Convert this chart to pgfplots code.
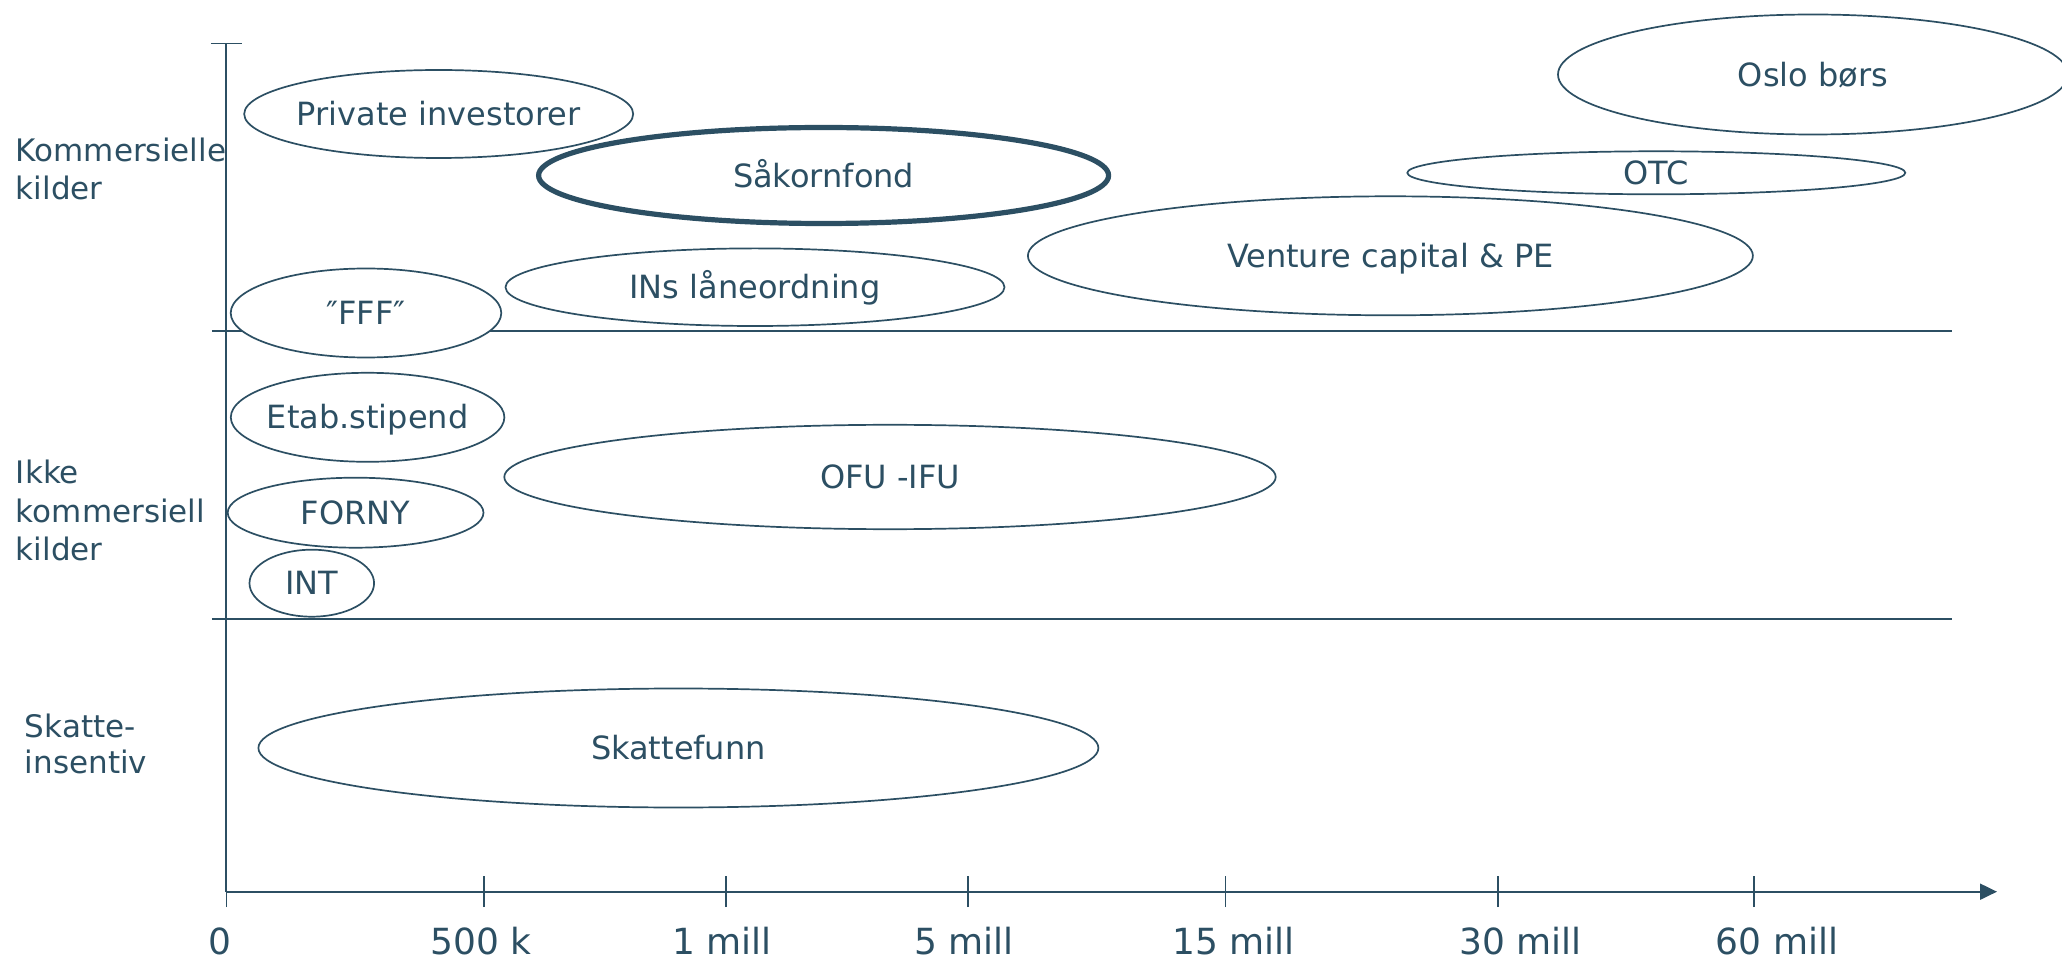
\documentclass[border=0pt]{standalone}
\usepackage{fontspec}
\setmainfont{DejaVu Sans}
\usepackage{pgfplots}
\usepackage{pgfplotstable}
\pgfplotsset{compat=1.18}
\usetikzlibrary{arrows.meta,shapes.geometric}
\definecolor{ink}{RGB}{44,79,99}

% ellipse centres and radii (in picture pixels), line width (pt), label
\pgfplotstableread[col sep=comma]{
x,y,rx,ry,lw,label
438.7,846,194.5,44,0.85,Private investorer
1813,885.5,255,60,0.85,Oslo børs
1656.3,787.2,249,21.5,0.85,OTC
1390.4,704.2,362.5,59.5,0.85,Venture capital \& PE
755,672.8,249.5,38.8,0.85,INs låneordning
366,647,135.3,44.5,0.85,″FFF″
823.6,784.5,285,48,2.6,Såkornfond
367.6,542.7,136.8,44.5,0.85,Etab.stipend
890,483,385.7,52.2,0.85,OFU -IFU
355.6,447.3,127.9,35,0.85,FORNY
311.8,376.8,62.3,33.5,0.85,INT
678.4,212,420,59.5,0.85,Skattefunn
}\ellipses

\begin{document}
\begin{tikzpicture}
\path[use as bounding box] (0,0) rectangle (1031pt,480pt);
\begin{axis}[
  x=0.5pt, y=0.5pt,
  xmin=226.5, xmax=1997, ymin=68.3, ymax=916.3,
  anchor=south west, at={(113.25pt,34.15pt)},
  axis x line=bottom, axis y line=left,
  axis line style={ink, line width=1pt},
  x axis line style={-{Triangle[length=8.5pt,width=8pt]}},
  y axis line style={-},
  clip=false,
  tick align=center,
  major tick length=15.5pt,
  tick style={ink, line width=0.8pt},
  xtick={226.6,484,726,968,1225.5,1497.8,1753.8},
  xticklabels={},
  extra x ticks={226.6,481,721.9,964,1233.6,1520.8,1777},
  extra x tick labels={{\makebox[0pt]{\kern-6.6pt 0}},500 k,1 mill,5 mill,15 mill,30 mill,60 mill},
  extra x tick style={major tick length=0pt,
    xticklabel style={anchor=base, yshift=-31.15pt, font=\fontsize{18}{21}\selectfont, text=ink, inner sep=0pt}},
  ytick={916.3}, yticklabels={},
]
% band boundaries
\addplot[ink, line width=1pt, forget plot] coordinates {(212,628.5) (1951.6,628.5)};
\addplot[ink, line width=1pt, forget plot] coordinates {(212,340.7) (1951.6,340.7)};
% funding sources as ellipses
\addplot[draw=none, mark=none,
  point meta=explicit symbolic,
  visualization depends on={\thisrow{rx} \as \ellrx},
  visualization depends on={\thisrow{ry} \as \ellry},
  visualization depends on={\thisrow{lw} \as \elllw},
  nodes near coords={\makebox[0pt]{\raisebox{-5.85pt}[0pt][0pt]{\pgfplotspointmeta}}},
  nodes near coords align=center,
  every node near coord/.append style={shape=ellipse, draw=ink, fill=white,
    line width=\elllw pt, minimum width=\ellrx pt, minimum height=\ellry pt,
    inner sep=0pt, outer sep=0pt, text=ink, font=\fontsize{16}{19}\selectfont},
] table[x=x, y=y, meta=label] {\ellipses};
% category labels on the left
\node[anchor=base west, inner sep=0pt, text=ink, font=\fontsize{15.5}{19}\selectfont] at (axis cs:15.6,798.3) {Kommersielle};
\node[anchor=base west, inner sep=0pt, text=ink, font=\fontsize{15.5}{19}\selectfont] at (axis cs:15.6,760.7) {kilder};
\node[anchor=base west, inner sep=0pt, text=ink, font=\fontsize{15.5}{19}\selectfont] at (axis cs:15.6,476) {Ikke};
\node[anchor=base west, inner sep=0pt, text=ink, font=\fontsize{15.5}{19}\selectfont] at (axis cs:15.6,437.3) {kommersiell};
\node[anchor=base west, inner sep=0pt, text=ink, font=\fontsize{15.5}{19}\selectfont] at (axis cs:15.6,399.3) {kilder};
\node[anchor=base west, inner sep=0pt, text=ink, font=\fontsize{15.5}{19}\selectfont] at (axis cs:24.5,223) {Skatte-};
\node[anchor=base west, inner sep=0pt, text=ink, font=\fontsize{15.5}{19}\selectfont] at (axis cs:24.5,186.7) {insentiv};
\end{axis}
\end{tikzpicture}
\end{document}
